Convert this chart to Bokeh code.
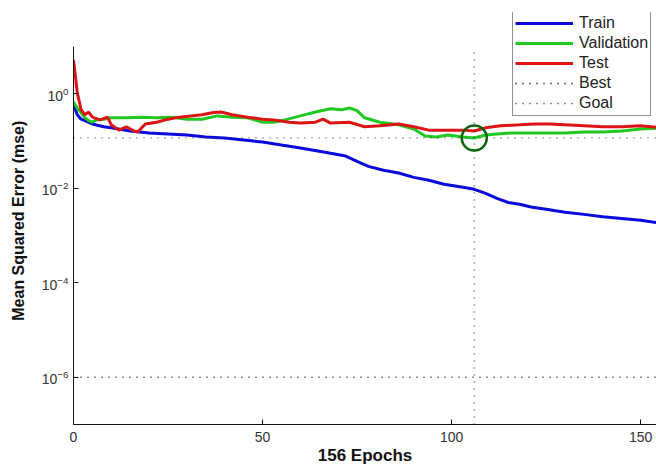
from bokeh.plotting import figure
from bokeh.models import FixedTicker, LogTickFormatter, Legend, Range1d
from bokeh.embed import file_html
from bokeh.resources import INLINE

# ---- data ----
train_epoch = [0, 1, 2, 3, 5, 8, 10, 15, 20, 25, 30, 35, 40, 45, 50, 55, 60, 65, 68, 72,
               75, 78, 82, 86, 90, 94, 98, 103, 106, 109, 112, 115, 118, 121, 125, 130,
               135, 140, 145, 150, 156]
train_mse = [0.60, 0.36, 0.29, 0.27, 0.23, 0.20, 0.19, 0.163, 0.148, 0.141, 0.134, 0.122,
             0.116, 0.105, 0.095, 0.082, 0.071, 0.061, 0.055, 0.048, 0.037, 0.029, 0.024,
             0.021, 0.017, 0.0148, 0.0122, 0.0105, 0.0095, 0.0078, 0.0061, 0.0050, 0.0046,
             0.0040, 0.0036, 0.0031, 0.0028, 0.0025, 0.0023, 0.0021, 0.0018]

val_epoch = [0, 1, 2, 3, 4, 5, 6, 8, 10, 14, 18, 22, 26, 30, 34, 38, 42, 46, 50, 53, 56,
             60, 64, 68, 71, 73, 75, 77, 81, 86, 90, 93, 96, 99, 103, 106, 109, 112, 116,
             121, 126, 130, 135, 140, 145, 150, 156]
val_mse = [0.68, 0.50, 0.40, 0.31, 0.27, 0.25, 0.28, 0.29, 0.31, 0.31, 0.32, 0.31, 0.32,
           0.29, 0.29, 0.34, 0.32, 0.31, 0.25, 0.25, 0.28, 0.34, 0.41, 0.48, 0.46, 0.50,
           0.44, 0.31, 0.25, 0.22, 0.18, 0.128, 0.122, 0.134, 0.122, 0.116, 0.134, 0.141,
           0.148, 0.148, 0.148, 0.148, 0.155, 0.155, 0.163, 0.18, 0.19]

test_epoch = [0, 1, 2, 3, 4, 5, 7, 9, 10, 12, 14, 16, 17, 19, 22, 25, 28, 31, 34, 37, 39,
              42, 46, 50, 53, 57, 60, 64, 66, 68, 73, 77, 81, 86, 90, 94, 99, 103, 106,
              109, 113, 118, 122, 126, 130, 135, 140, 145, 150, 156]
test_mse = [5.2, 1.05, 0.46, 0.36, 0.41, 0.32, 0.28, 0.32, 0.22, 0.17, 0.20, 0.163, 0.155,
            0.23, 0.25, 0.29, 0.32, 0.34, 0.36, 0.40, 0.41, 0.36, 0.32, 0.29, 0.28, 0.25,
            0.24, 0.25, 0.29, 0.24, 0.25, 0.20, 0.21, 0.23, 0.20, 0.17, 0.17, 0.17, 0.163,
            0.19, 0.21, 0.22, 0.23, 0.23, 0.22, 0.21, 0.20, 0.20, 0.21, 0.19]

best_epoch = 106
best_perf = 0.116
goal = 1e-6
n_epochs = 156

x_ticks = [0, 50, 100, 150]
y_ticks = [1e-6, 1e-4, 1e-2, 1]
y_lo, y_hi = 1e-7, 10.0      # axis limits of the data area

FONT = "Liberation Sans"

p = figure(
    output_backend="svg", toolbar_location=None,
    y_axis_type="log",
    x_range=Range1d(0, 154.2), y_range=Range1d(y_lo, 10 ** 1.72),
    frame_width=583, frame_height=412,
    min_border_left=73, min_border_right=0, min_border_top=12, min_border_bottom=42,
    background_fill_color="white", border_fill_color="white",
)
p.outline_line_color = None
p.grid.visible = False

# axes styling
p.xaxis.ticker = FixedTicker(ticks=x_ticks, minor_ticks=[])
p.yaxis.ticker = FixedTicker(ticks=y_ticks, minor_ticks=[])
p.yaxis.formatter = LogTickFormatter()
p.yaxis.bounds = (y_lo, y_hi)
for ax in (p.xaxis[0], p.yaxis[0]):
    ax.axis_line_color = "#111111"
    ax.axis_line_width = 1
    ax.major_tick_in = 5
    ax.major_tick_out = 0
    ax.minor_tick_in = 0
    ax.minor_tick_out = 0
    ax.major_tick_line_color = "#111111"
    ax.major_label_text_font = FONT
    ax.major_label_text_font_size = "14px"
    ax.major_label_text_color = "#333333"
    ax.axis_label_text_font = FONT
    ax.axis_label_text_font_style = "bold"
    ax.axis_label_text_color = "#111111"

p.xaxis.axis_label = f"{n_epochs} Epochs"
p.yaxis.axis_label = "Mean Squared Error  (mse)"
p.xaxis.axis_label_text_font_size = "17px"
p.yaxis.axis_label_text_font_size = "16px"
p.xaxis.major_label_standoff = 7
p.xaxis.axis_label_standoff = 1
p.yaxis.major_label_standoff = 5
p.yaxis.axis_label_standoff = 12

# series
r_train = p.line(train_epoch, train_mse, line_color="#0a0adc", line_width=3)
r_val = p.line(val_epoch, val_mse, line_color="#22c822", line_width=3)
r_test = p.line(test_epoch, test_mse, line_color="#dc1414", line_width=3)

# best & goal lines
r_best_h = p.line([0, n_epochs], [best_perf, best_perf], line_color="#3a553a",
                  line_width=1.3, line_dash="1 6")
r_best_v = p.line([best_epoch, best_epoch], [y_lo, y_hi], line_color="#3a553a",
                  line_width=1.3, line_dash="1 6")
r_goal = p.line([0, n_epochs], [goal, goal], line_color="#222222",
                line_width=1.3, line_dash="1 6")

# best marker
p.scatter([best_epoch], [best_perf], marker="circle", size=25,
          fill_color=None, line_color="#0a640a", line_width=2.5)

legend = Legend(items=[
    ("Train", [r_train]),
    ("Validation", [r_val]),
    ("Test", [r_test]),
    ("Best", [r_best_h, r_best_v]),
    ("Goal", [r_goal]),
], location=(439, 308))
legend.border_line_color = "#222222"
legend.border_line_width = 1
legend.background_fill_color = "white"
legend.background_fill_alpha = 1
legend.padding = 2
legend.spacing = 0
legend.margin = 0
legend.label_height = 20
legend.glyph_height = 20
legend.glyph_width = 58
legend.label_standoff = 6
legend.label_text_font = FONT
legend.label_text_font_size = "16px"
legend.label_text_color = "#222222"
p.add_layout(legend, "center")

open("out.html", "w").write(file_html(p, INLINE))
